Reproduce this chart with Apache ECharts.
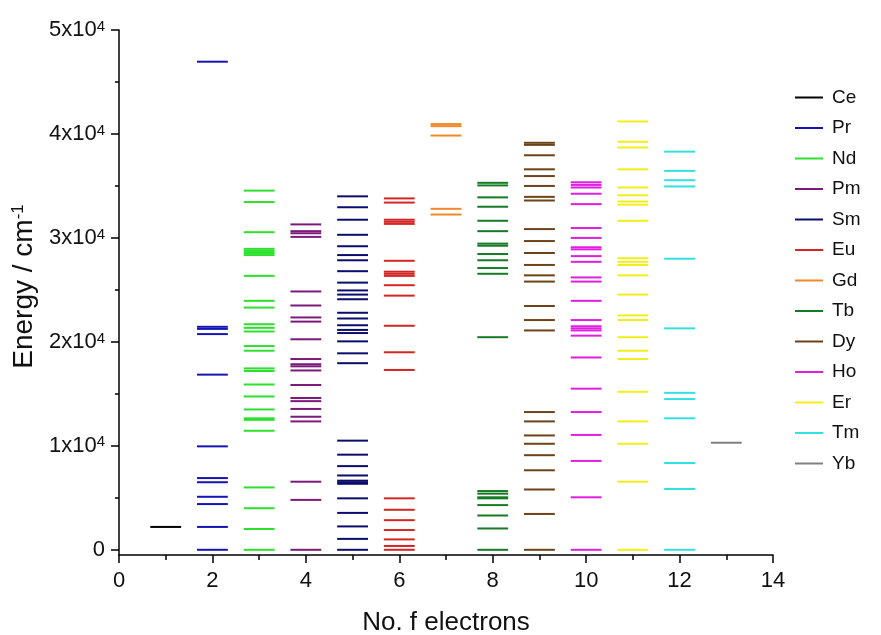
<!DOCTYPE html>
<html>
<head>
<meta charset="utf-8">
<script src="https://cdn.jsdelivr.net/npm/echarts@6/dist/echarts.min.js"></script>
<style>
  html, body { margin: 0; padding: 0; background: #fff; }
  #chart { width: 881px; height: 635px; }
</style>
</head>
<body>
<div id="chart"></div>
<script>
// ions and their number of f electrons
const elements = ['Ce', 'Pr', 'Nd', 'Pm', 'Sm', 'Eu', 'Gd', 'Tb', 'Dy', 'Ho', 'Er', 'Tm', 'Yb'];
const fElectrons = [1, 2, 3, 4, 5, 6, 7, 8, 9, 10, 11, 12, 13];

// energy levels, cm-1
const ce = [2200];
const pr = [0, 2200, 4400, 5100, 6500, 6900, 9950, 16850, 20750, 21250, 21450, 46950];
const nd = [0, 2000, 4000, 6000, 11450, 12500, 12650, 13500, 14750, 15900, 17200, 17450, 19150, 19600,
  21000, 21350, 21700, 23300, 23950, 26350, 28350, 28550, 28750, 28950, 30550, 33450, 34550];
const pm = [0, 4800, 6550, 12350, 12800, 13550, 14300, 14600, 15850, 17250, 17650, 17850, 18350, 20250,
  21950, 22350, 23500, 24850, 30100, 30450, 30650, 31300];
const sm = [0, 1050, 2250, 3550, 4950, 6350, 6500, 6650, 7150, 8050, 9150, 10500, 17950, 18900, 20050,
  20850, 21150, 21600, 22250, 22800, 24100, 24550, 24950, 25700, 26800, 27850, 28350, 29200, 30300,
  31750, 32950, 34000];
const eu = [0, 370, 1000, 1900, 2850, 3850, 4950, 17300, 19000, 21550, 24450, 25450, 26350, 26550, 26750,
  27800, 31350, 31550, 31750, 33400, 33800];
const gd = [32250, 32800, 39850, 40750, 40950];
const tb = [0, 2050, 3300, 4300, 4950, 5050, 5400, 5650, 20450, 26550, 27100, 27850, 28450, 29250, 29450,
  30650, 31650, 33000, 33900, 35050, 35300];
const dy = [0, 3450, 5800, 7650, 9100, 10200, 11000, 12350, 13250, 21100, 22100, 23450, 25800, 26400,
  27400, 28550, 29700, 30850, 33600, 33950, 35000, 35950, 36600, 37950, 38950, 39150];
const ho = [0, 5050, 8550, 11050, 13250, 15500, 18500, 20600, 21100, 21300, 21500, 22100, 23950, 25800,
  26200, 27700, 28250, 28900, 29100, 30000, 30950, 33250, 34250, 34850, 35100, 35350];
const er = [0, 6550, 10200, 12350, 15200, 18350, 19150, 20450, 22100, 22550, 24550, 26400, 27400, 27700,
  28050, 31650, 33200, 33500, 34100, 34850, 36600, 38700, 39250, 41200];
const tm = [0, 5850, 8350, 12650, 14500, 15100, 21300, 28000, 34950, 35550, 36450, 38300];
const yb = [10300];

const levels = [ce, pr, nd, pm, sm, eu, gd, tb, dy, ho, er, tm, yb];

// y axis ticks
const yMajor = [0, 10000, 20000, 30000, 40000, 50000];
const yMinor = [5000, 15000, 25000, 35000, 45000];

const colors = ['#000000', '#1414b4', '#2ee02e', '#7a1a7a', '#0c0c6e', '#d42424', '#f0882a',
  '#157a25', '#6e4218', '#e01ee0', '#f2ee1a', '#33e0e0', '#808080'];

const halfWidth = 0.33; // half length of a level line, in x units
const font = 'Liberation Sans';

const chart = echarts.init(document.getElementById('chart'));

const option = {
  backgroundColor: '#fff',
  animation: false,
  textStyle: { fontFamily: font },
  grid: { left: 119, right: 108, top: 30, bottom: 80, outerBoundsMode: 'none', containLabel: false },
  legend: {
    orient: 'vertical',
    left: 790,
    top: 83,
    icon: 'rect',
    itemWidth: 28,
    itemHeight: 2,
    itemGap: 11.5,
    data: elements,
    textStyle: { fontSize: 19, lineHeight: 19, color: '#111', padding: [0, 0, 0, 4], fontFamily: font }
  },
  xAxis: {
    type: 'value',
    min: 0,
    max: 14,
    interval: 2,
    axisLine: { onZero: false, lineStyle: { color: '#000', width: 1.5 } },
    axisTick: { length: 8, lineStyle: { color: '#000', width: 1.5 } },
    minorTick: { show: true, splitNumber: 2, length: 5, lineStyle: { color: '#000', width: 1.5 } },
    splitLine: { show: false },
    axisLabel: { fontSize: 22, color: '#111', margin: 15, fontFamily: font },
    name: 'No. f electrons',
    nameLocation: 'middle',
    nameGap: 55,
    nameTextStyle: { fontSize: 26, color: '#111', fontFamily: font }
  },
  yAxis: [{
    type: 'value',
    min: -500,
    max: 50000,
    axisLine: { show: true, onZero: false, lineStyle: { color: '#000', width: 1.5 } },
    axisTick: { show: true, length: 8, customValues: yMajor, lineStyle: { color: '#000', width: 1.5 } },
    splitLine: { show: false },
    axisLabel: {
      customValues: yMajor,
      margin: 14,
      fontSize: 22,
      color: '#111',
      fontFamily: font,
      formatter: v => v === 0 ? '0' : (v / 10000) + 'x10{sup|4}',
      rich: { sup: { fontSize: 15, lineHeight: 15, verticalAlign: 'top', fontFamily: font, color: '#111' } }
    },
    name: 'Energy / cm{sup|-1}',
    nameLocation: 'middle',
    nameGap: 77,
    nameTextStyle: {
      fontSize: 28, color: '#111', fontFamily: font, padding: [0, 0, 0, 12],
      rich: { sup: { fontSize: 17, lineHeight: 17, verticalAlign: 'top', fontFamily: font, color: '#111' } }
    }
  }, {
    type: 'value',
    min: -500,
    max: 50000,
    position: 'left',
    axisLine: { show: false },
    axisTick: { show: true, length: 4, customValues: yMinor, lineStyle: { color: '#000', width: 1.5 } },
    axisLabel: { show: false },
    splitLine: { show: false }
  }],
  series: elements.map((name, i) => ({
    name: name,
    type: 'custom',
    itemStyle: { color: colors[i] },
    encode: { x: 0, y: 1 },
    data: levels[i].map(e => [fElectrons[i], e]),
    renderItem: (params, api) => {
      const x = api.value(0);
      const e = api.value(1);
      const p1 = api.coord([x - halfWidth, e]);
      const p2 = api.coord([x + halfWidth, e]);
      return {
        type: 'line',
        shape: { x1: p1[0], y1: p1[1], x2: p2[0], y2: p2[1] },
        style: { stroke: colors[i], lineWidth: 2 }
      };
    }
  }))
};

chart.setOption(option);
</script>
</body>
</html>
